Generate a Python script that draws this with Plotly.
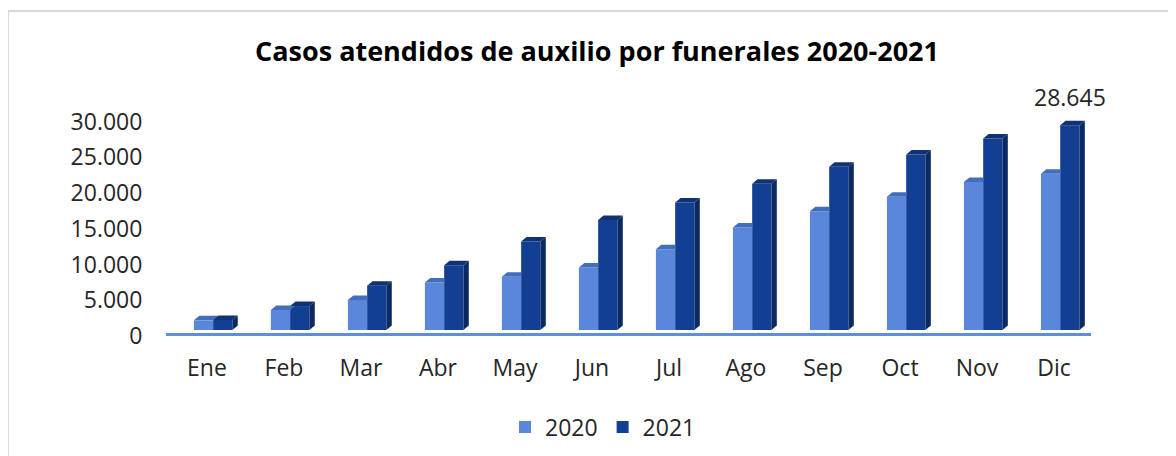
import plotly.graph_objects as go

# ---------------- data ----------------
months = ["Ene", "Feb", "Mar", "Abr", "May", "Jun", "Jul", "Ago", "Sep", "Oct", "Nov", "Dic"]
cases_2020 = [1350, 2800, 4200, 6650, 7450, 8750, 11300, 14350, 16600, 18650, 20700, 21850]
cases_2021 = [1400, 3350, 6200, 9050, 12400, 15400, 17850, 20450, 22850, 24550, 26800, 28645]
series_names = ["2020", "2021"]
y_ticks = [0, 5000, 10000, 15000, 20000, 25000, 30000]
y_tick_labels = ["0", "5.000", "10.000", "15.000", "20.000", "25.000", "30.000"]
title_text = "Casos atendidos de auxilio por funerales 2020-2021"

# ---------------- style ----------------
OFF = 8                      # page body margin of the browser
W, H = 1176 - OFF, 456 - OFF
# target positions in screen pixels
SCR_PLOT_L, SCR_PLOT_R = 166, 1091
SCR_PLOT_T, SCR_PLOT_B = 90, 345
M_L = SCR_PLOT_L - OFF
M_R = W - (SCR_PLOT_R - OFF)
M_T = SCR_PLOT_T - OFF
M_B = H - (SCR_PLOT_B - OFF)
PLOT_H = H - M_T - M_B
PX_ZERO = 336                # screen row of value 0
UNITS_PER_PX = 30000 / 214.4
Y_RANGE = [-(SCR_PLOT_B - PX_ZERO) * UNITS_PER_PX, (PX_ZERO - SCR_PLOT_T) * UNITS_PER_PX]
X_RANGE = [-0.532, 11.48]
LIFT = 6 * UNITS_PER_PX      # bars float above the floor (3D look)
DX = 0.07                    # depth offset in x (category units)
DY = 4.5 * UNITS_PER_PX      # depth offset in y
BAR_W = 0.25
OFF_2020, OFF_2021 = -0.17, 0.08

C_2020 = "#5A87DA"
C_2020_TOP = "#426EBD"
C_2021 = "#133F93"
C_2021_TOP = "#0F3275"
C_2021_SIDE = "#0C2A62"
C_FLOOR = "#5F8EDC"
C_TEXT = "#262626"
FONT = "Open Sans"
FS = 23

x_pos = list(range(len(months)))

fig = go.Figure()
fig.add_trace(go.Bar(
    x=x_pos, y=cases_2020, base=LIFT, name=series_names[0],
    offset=OFF_2020, width=BAR_W, marker=dict(color=C_2020, line=dict(width=0)),
))
fig.add_trace(go.Bar(
    x=x_pos, y=cases_2021, base=LIFT, name=series_names[1],
    offset=OFF_2021, width=BAR_W, marker=dict(color=C_2021, line=dict(width=0)),
))


def path(pts):
    return "M " + " L ".join(f"{x},{y}" for x, y in pts) + " Z"


shapes = []
for i, (v0, v1) in enumerate(zip(cases_2020, cases_2021)):
    x0 = i + OFF_2020
    x1 = x0 + BAR_W
    t0 = v0 + LIFT
    t1 = v1 + LIFT
    if t1 >= t0 + DY:
        pts = [(x0, t0), (x1, t0), (x1, t0 + DY), (x0 + DX, t0 + DY)]
    else:
        pts = [(x0, t0), (x1, t0), (x1 + DX, t0 + DY), (x0 + DX, t0 + DY)]
    shapes.append(dict(type="path", path=path(pts), xref="x", yref="y",
                       fillcolor=C_2020_TOP, line=dict(width=0), layer="above"))
    a0 = i + OFF_2021
    a1 = a0 + BAR_W
    shapes.append(dict(type="path",
                       path=path([(a0, t1), (a1, t1), (a1 + DX, t1 + DY), (a0 + DX, t1 + DY)]),
                       xref="x", yref="y", fillcolor=C_2021_TOP, line=dict(width=0), layer="above"))
    shapes.append(dict(type="path",
                       path=path([(a1, LIFT), (a1 + DX, LIFT + DY), (a1 + DX, t1 + DY), (a1, t1)]),
                       xref="x", yref="y", fillcolor=C_2021_SIDE, line=dict(width=0), layer="above"))

# floor line
shapes.append(dict(type="line", xref="x", yref="y", x0=X_RANGE[0], x1=X_RANGE[1],
                   y0=LIFT / 4, y1=LIFT / 4, line=dict(color=C_FLOOR, width=3), layer="above"))
# chart frame (top and left edges visible)
plot_w = W - M_L - M_R
shapes.append(dict(type="rect", xref="paper", yref="paper",
                   x0=(8 - SCR_PLOT_L) / plot_w, x1=1.3, y0=-1.0,
                   y1=(SCR_PLOT_B - 11) / PLOT_H,
                   line=dict(color="#D9D9D9", width=2), fillcolor="rgba(0,0,0,0)", layer="below"))

last = len(months) - 1
fig.add_annotation(
    x=last + OFF_2021 + BAR_W / 2, y=cases_2021[last] + LIFT,
    text=f"{cases_2021[last]:,}".replace(",", "."), showarrow=False,
    yanchor="bottom", yshift=10, font=dict(family=FONT, size=FS, color=C_TEXT),
)

fig.update_layout(
    width=W, height=H,
    margin=dict(l=M_L, r=M_R, t=M_T, b=M_B),
    paper_bgcolor="white", plot_bgcolor="white",
    barmode="overlay",
    shapes=shapes,
    title=dict(text=f"<b>{title_text}</b>", x=(597 - OFF) / W, xref="container", xanchor="center",
               y=1 - (52 - OFF) / H, yref="container", yanchor="middle",
               font=dict(family=FONT, size=27, color="#000000")),
    font=dict(family=FONT, size=FS, color=C_TEXT),
    showlegend=True,
    legend=dict(orientation="h", x=(603 - OFF) / W, xref="container", xanchor="center",
                y=1 - (427 - OFF) / H, yref="container", yanchor="middle",
                font=dict(family=FONT, size=FS, color=C_TEXT), itemclick=False),
    xaxis=dict(range=X_RANGE, tickvals=x_pos, ticktext=months, showgrid=False, zeroline=False,
               showline=False, ticks="outside", ticklen=2, tickcolor="rgba(0,0,0,0)",
               tickfont=dict(family=FONT, size=FS, color=C_TEXT), fixedrange=True),
    yaxis=dict(range=Y_RANGE, tickvals=y_ticks, ticktext=y_tick_labels, showgrid=False,
               zeroline=False, showline=False, ticks="outside", ticklen=18,
               tickcolor="rgba(0,0,0,0)",
               tickfont=dict(family=FONT, size=FS, color=C_TEXT), fixedrange=True),
)

fig.write_html("out.html")
